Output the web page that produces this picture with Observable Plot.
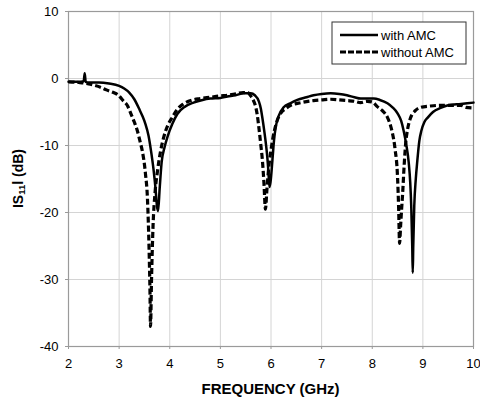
<!DOCTYPE html>
<html><head><meta charset="utf-8">
<script src="https://cdn.jsdelivr.net/npm/d3@7"></script>
<script src="https://cdn.jsdelivr.net/npm/@observablehq/plot@0.6"></script>
<style>body{margin:0;background:#fff}#chart{width:480px;height:403px}</style>
</head><body><div id="chart"></div>
<script>
const seriesNames = ["with AMC", "without AMC"];
const xTicks = [2, 3, 4, 5, 6, 7, 8, 9, 10];
const yTicks = [10, 0, -10, -20, -30, -40];

const freqWith = [2.0,2.2,2.3,2.32,2.34,2.4,2.6,2.8,3.0,3.1,3.2,3.3,3.4,3.46,3.52,3.58,3.63,3.68,3.72,3.75,3.77,3.8,3.84,3.9,3.96,4.05,4.15,4.3,4.47,4.65,4.8,5.0,5.14,5.3,5.46,5.6,5.68,5.76,5.8,5.83,5.87,5.9,5.93,5.95,5.97,5.99,6.03,6.06,6.09,6.15,6.25,6.38,6.52,6.7,6.84,7.0,7.18,7.35,7.5,7.65,7.77,7.9,8.03,8.15,8.3,8.4,8.5,8.57,8.62,8.67,8.72,8.75,8.77,8.79,8.8,8.81,8.83,8.86,8.89,8.93,8.97,9.03,9.1,9.2,9.35,9.5,9.75,10.0];
const s11With = [-0.5,-0.5,-0.4,0.8,-0.5,-0.6,-0.6,-0.75,-1.1,-1.5,-2.1,-3.1,-4.6,-5.6,-6.8,-8.5,-10.8,-13.6,-16.5,-19.2,-19.8,-16.5,-12.5,-10.2,-8.6,-6.8,-5.3,-4.2,-3.6,-3.2,-3.0,-2.9,-2.7,-2.5,-2.2,-2.2,-2.5,-3.4,-4.5,-5.9,-8.0,-9.8,-12.0,-14.0,-16.2,-15.5,-12.0,-9.2,-7.4,-5.6,-4.3,-3.7,-3.2,-2.8,-2.5,-2.3,-2.2,-2.3,-2.5,-2.8,-3.0,-3.0,-3.0,-3.2,-3.7,-4.3,-5.2,-6.3,-7.8,-9.8,-12.5,-15.5,-19.0,-25.0,-29.0,-25.0,-19.0,-15.0,-12.3,-9.3,-7.8,-6.5,-5.8,-5.0,-4.4,-4.0,-3.8,-3.6];

const freqWithout = [2.0,2.2,2.4,2.5,2.63,2.75,2.89,2.97,3.09,3.16,3.23,3.3,3.36,3.42,3.46,3.52,3.56,3.59,3.61,3.62,3.64,3.67,3.71,3.76,3.82,3.88,3.96,4.05,4.15,4.27,4.45,4.6,4.8,5.0,5.14,5.3,5.45,5.54,5.6,5.66,5.7,5.73,5.76,5.8,5.83,5.86,5.89,5.92,5.95,5.99,6.03,6.1,6.19,6.29,6.39,6.6,6.84,7.0,7.18,7.35,7.5,7.65,7.77,7.9,8.0,8.1,8.2,8.3,8.36,8.4,8.45,8.5,8.52,8.54,8.56,8.58,8.6,8.63,8.66,8.7,8.76,8.85,8.96,9.15,9.35,9.55,9.75,9.85,10.0];
const s11Without = [-0.5,-0.6,-0.8,-1.0,-1.3,-1.7,-2.1,-2.4,-3.4,-4.0,-5.2,-6.5,-7.8,-9.6,-10.9,-14.2,-18.0,-25.0,-32.0,-37.0,-30.0,-22.0,-17.0,-13.7,-10.8,-8.8,-7.0,-5.8,-4.6,-3.8,-3.2,-3.0,-2.8,-2.6,-2.5,-2.3,-2.1,-2.1,-2.6,-3.4,-4.3,-5.5,-7.3,-10.0,-12.2,-15.5,-19.5,-16.5,-13.7,-11.2,-9.2,-6.8,-5.2,-4.5,-4.0,-3.6,-3.3,-3.2,-3.1,-3.2,-3.3,-3.4,-3.6,-3.4,-3.5,-4.2,-4.8,-5.8,-7.0,-8.2,-10.5,-14.8,-19.0,-24.6,-22.0,-19.5,-17.2,-13.0,-9.7,-7.5,-5.8,-4.8,-4.3,-4.1,-4.0,-4.0,-4.0,-4.3,-4.4];

const withData = freqWith.map((f, i) => ({f, v: s11With[i]}));
const withoutData = freqWithout.map((f, i) => ({f, v: s11Without[i]}));

const FONT = "'Liberation Sans', Arial, Helvetica, sans-serif";
const frameColor = "#9a9a9a";
const gridColor = "#d4d4d4";

const plot = Plot.plot({
  width: 480, height: 403,
  marginLeft: 68, marginRight: 7, marginTop: 11, marginBottom: 57,
  style: {fontFamily: FONT, fontSize: "13px", color: "#000", background: "#fff"},
  x: {domain: [2, 10], label: null},
  y: {domain: [-40, 10], label: null},
  marks: [
    Plot.gridX(xTicks, {stroke: gridColor, strokeOpacity: 1}),
    Plot.gridY(yTicks, {stroke: gridColor, strokeOpacity: 1}),
    Plot.axisX(xTicks, {tickSize: 3, tickPadding: 9, stroke: frameColor, label: null, fontSize: 13, color: "#000"}),
    Plot.axisY(yTicks, {tickSize: 3, tickPadding: 7, stroke: frameColor, label: null, fontSize: 13, tickFormat: d => String(d)}),
    Plot.frame({stroke: frameColor, strokeWidth: 1.2}),
    Plot.line(withoutData, {x: "f", y: "v", stroke: "#000", strokeWidth: 3.2, strokeDasharray: "6,3", strokeLinecap: "butt", strokeLinejoin: "miter", curve: "monotone-x"}),
    Plot.line(withData, {x: "f", y: "v", stroke: "#000", strokeWidth: 2.5, curve: "monotone-x"})
  ]
});

document.getElementById("chart").appendChild(plot);
const svg = d3.select(plot);
const xs = plot.scale("x"), ys = plot.scale("y");
const cx = (xs.range[0] + xs.range[1]) / 2;
const cy = (ys.range[0] + ys.range[1]) / 2;

// axis titles
svg.append("text").attr("x", cx).attr("y", 394).attr("text-anchor", "middle")
  .attr("font-family", FONT).attr("font-size", 15).attr("font-weight", "bold").attr("fill", "#000")
  .text("FREQUENCY (GHz)");
const yt = svg.append("text").attr("transform", `translate(23,${cy}) rotate(-90)`).attr("text-anchor", "middle")
  .attr("font-family", FONT).attr("font-size", 14).attr("font-weight", "bold").attr("fill", "#000");
yt.append("tspan").text("IS");
yt.append("tspan").attr("font-size", 9.5).attr("dy", 2).text("11");
yt.append("tspan").attr("dy", -2).text("l (dB)");

// legend box
const lg = svg.append("g").attr("font-family", FONT).attr("font-size", 13).attr("text-anchor", "start");
lg.append("rect").attr("x", 332).attr("y", 22).attr("width", 134).attr("height", 42)
  .attr("fill", "#fff").attr("stroke", "#333").attr("stroke-width", 1);
seriesNames.forEach((name, i) => {
  const y = 35 + i * 17;
  lg.append("line").attr("x1", 340).attr("x2", 378).attr("y1", y).attr("y2", y)
    .attr("stroke", "#000").attr("stroke-width", i ? 3.2 : 2.5)
    .attr("stroke-dasharray", i ? "6,2" : null).attr("stroke-linecap", "butt");
  lg.append("text").attr("x", 381).attr("y", y + 4.5).attr("text-anchor", "start").attr("fill", "#000").text(name);
});
</script>
</body></html>
